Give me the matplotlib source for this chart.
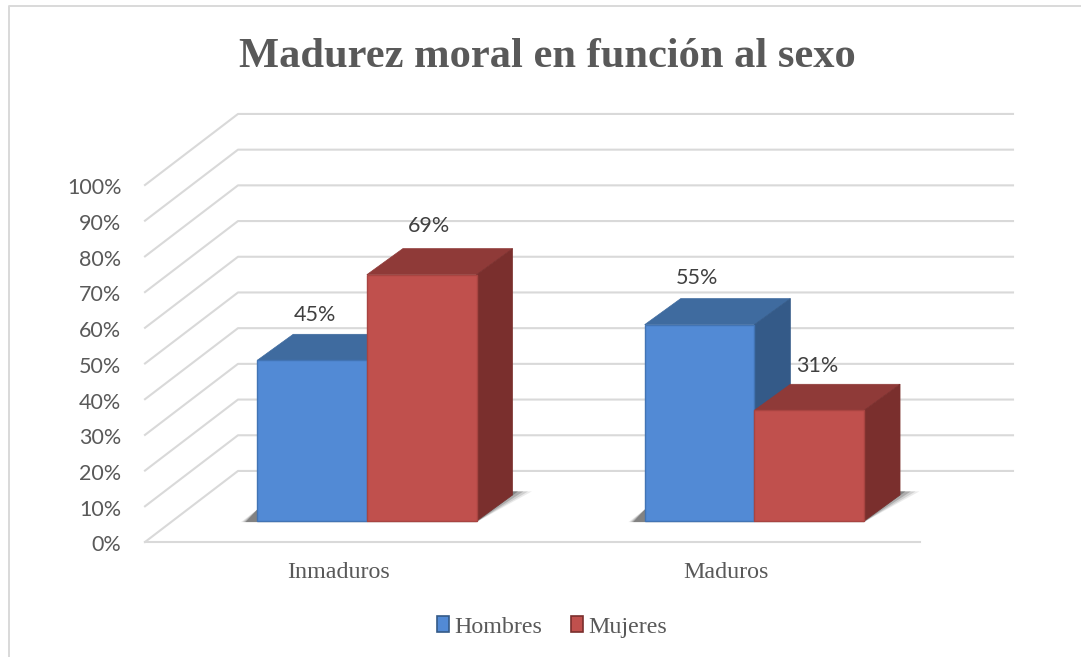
import matplotlib
matplotlib.use("Agg")
import matplotlib.pyplot as plt
from matplotlib.lines import Line2D
from matplotlib.patches import Patch, Polygon
from matplotlib.transforms import ScaledTranslation

W, H = 1081, 657

categories = ["Inmaduros", "Maduros"]
hombres = [45, 55]
mujeres = [69, 31]
y_ticks = [0, 10, 20, 30, 40, 50, 60, 70, 80, 90, 100]

GRID = "#d9d9d9"
TEXT = "#595959"
# front, top, side, edge
BLUE = ("#528ad5", "#3f6b9f", "#345a88", "#4274b4")
RED = ("#c0504d", "#8f3a38", "#7a2f2d", "#a84441")

# 3D look: offsets in data units (x = category, y = percent)
WALL_DX, WALL_DY = 0.24, 19.9
BAR_X0, BAR_Y0 = 0.0725, 5.88
BAR_DX, BAR_DY = 0.093, 7.3
BAR_W = 0.283

# the data labels were moved by hand in the original, offsets in points
hombres_nudge = [(2.2, 33), (-1.5, 33.8)]
mujeres_nudge = [(5, 35.2), (5.8, 32)]

fig = plt.figure(figsize=(W / 100, H / 100), dpi=100)
ax = fig.add_axes([145 / W, (H - 542) / H, 775 / W, 357 / H])
ax.set_xlim(-0.5, 1.5)
ax.set_ylim(0, 100)
ax.patch.set_alpha(0)

# outer frame, only left and top show
fig.add_artist(Line2D([9 / W, 9 / W, 1], [0, 1 - 6 / H, 1 - 6 / H], color=GRID, lw=1.4))

# walls
for v in y_ticks:
    ax.plot(
        [-0.5, -0.5 + WALL_DX, 1.5 + WALL_DX],
        [v, v + WALL_DY, v + WALL_DY],
        color=GRID, lw=1.5, clip_on=False, zorder=1,
    )
ax.plot([-0.5, 1.5], [0, 0], color=GRID, lw=1.5, clip_on=False, zorder=1)


def draw_shadow(x_left, x_right):
    # soft floor shadow, a few stacked transparent polygons
    base = BAR_Y0
    layers = [(0.05, 0.012, 0.1), (0.04, 0.008, 0.16), (0.028, 0.004, 0.25), (0.014, 0.0, 0.4)]
    for grow, left, alpha in layers:
        pts = [
            (x_left - 0.03 - left, base - 0.3),
            (x_right, base - 0.3),
            (x_right + BAR_DX + grow, base + BAR_DY + 1.0),
            (x_right + BAR_DX - 0.02, base + BAR_DY + 1.0),
            (x_left, base + 3.2),
        ]
        ax.add_patch(Polygon(pts, closed=True, fc="#444444", ec="none", alpha=alpha,
                             clip_on=False, zorder=2))


def draw_bar(x, value, colors, nudge):
    front, top, side, edge = colors
    y0 = BAR_Y0
    y1 = y0 + value
    x1 = x + BAR_W
    ax.add_patch(Polygon([(x, y1), (x1, y1), (x1 + BAR_DX, y1 + BAR_DY), (x + BAR_DX, y1 + BAR_DY)],
                         closed=True, fc=top, ec=top, lw=0.5, clip_on=False, zorder=3))
    ax.add_patch(Polygon([(x1, y0), (x1 + BAR_DX, y0 + BAR_DY), (x1 + BAR_DX, y1 + BAR_DY), (x1, y1)],
                         closed=True, fc=side, ec=side, lw=0.5, clip_on=False, zorder=3))
    ax.add_patch(Polygon([(x, y0), (x1, y0), (x1, y1), (x, y1)],
                         closed=True, fc=front, ec=edge, lw=1.0, clip_on=False, zorder=3))
    ax.annotate(f"{value}%", (x + BAR_W / 2, y1), xytext=nudge, textcoords="offset points",
                ha="center", va="center", fontsize=15.5, family="Lato", color="#404040", zorder=5)


for i in range(len(categories)):
    x_center = i + BAR_X0
    draw_shadow(x_center - BAR_W, x_center + BAR_W)
    draw_bar(x_center - BAR_W, hombres[i], BLUE, hombres_nudge[i])
    draw_bar(x_center, mujeres[i], RED, mujeres_nudge[i])

ax.set_yticks(y_ticks)
ax.set_yticklabels([f"{v}%" for v in y_ticks], family="Lato", fontsize=15.5, color=TEXT)
ax.set_xticks(range(len(categories)))
ax.set_xticklabels(categories, family="Liberation Serif", fontsize=17.3, color=TEXT)
ax.tick_params(axis="y", length=0, pad=17)
ax.tick_params(axis="x", length=0, pad=14.5)
shift = ScaledTranslation(0, -1 / 72, fig.dpi_scale_trans)
for label in ax.get_yticklabels():
    label.set_transform(label.get_transform() + shift)
for s in ax.spines.values():
    s.set_visible(False)

fig.text(547 / W, 1 - 57 / H, "Madurez moral en función al sexo", ha="center", va="center",
         family="Liberation Serif", weight="bold", fontsize=30.6, color=TEXT)

handles = [
    Patch(fc=BLUE[0], ec=BLUE[2], lw=1.2, label="Hombres"),
    Patch(fc=RED[0], ec=RED[2], lw=1.2, label="Mujeres"),
]
fig.legend(
    handles=handles, loc="center", bbox_to_anchor=(552 / W, 1 - 627 / H), ncol=2,
    frameon=False, prop={"family": "Liberation Serif", "size": 17.3}, labelcolor=TEXT,
    handlelength=0.5, handleheight=0.6, handletextpad=0.22, columnspacing=1.2,
)

fig.savefig("out.png", dpi=100, facecolor="white")
